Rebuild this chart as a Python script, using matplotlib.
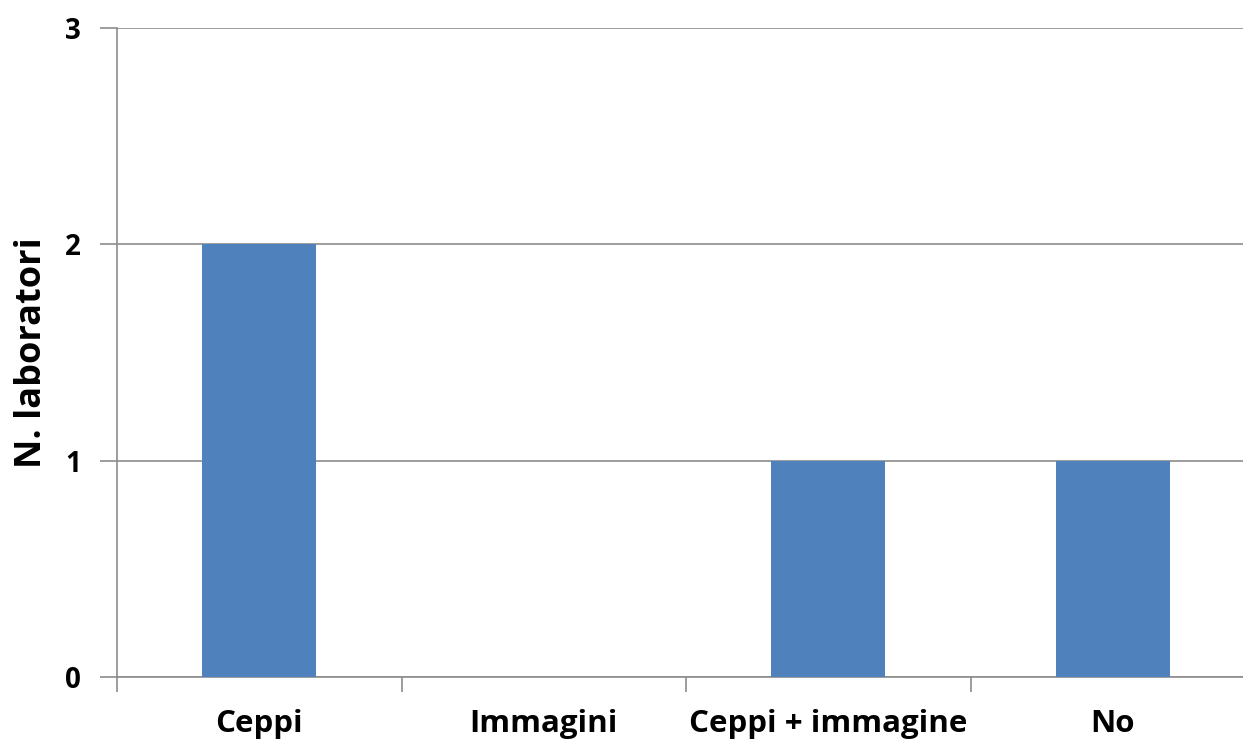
import matplotlib.pyplot as plt
import numpy as np

categories = ["Ceppi", "Immagini", "Ceppi + immagine", "No"]
values = [2, 0, 1, 1]
y_ticks = [0, 1, 2, 3]

plt.rcParams["font.family"] = ["Open Sans", "DejaVu Sans"]
plt.rcParams["font.weight"] = "bold"

fig = plt.figure(figsize=(12.43, 7.45), dpi=100)
# axes spans past the right edge, like the cropped original
ax = fig.add_axes([117 / 1243, (745 - 677) / 745, 1138 / 1243, (677 - 28) / 745])

x = np.arange(len(categories))
ax.bar(x, values, width=0.4, color="#4F81BD", zorder=3)

ax.set_xlim(-0.5, len(categories) - 0.5)
ax.set_ylim(0, 3)
ax.set_yticks(y_ticks)
ax.yaxis.grid(True, color="#8c8c8c", linewidth=1.2, zorder=0)

ax.set_xticks(x)
ax.set_xticklabels(categories, fontsize=22.5, fontweight="bold")
ax.tick_params(axis="x", which="major", length=0, pad=23)
ax.set_xticks(np.arange(-0.5, len(categories)), minor=True)
ax.tick_params(axis="x", which="minor", length=11, width=1.2, color="#8c8c8c")
ax.tick_params(axis="y", length=12, width=1.2, color="#8c8c8c", pad=14, labelsize=20)
for lbl in ax.get_yticklabels():
    lbl.set_fontweight("bold")

ax.set_ylabel("N. laboratori", fontsize=26, fontweight="bold", labelpad=11)

for side in ["top", "right"]:
    ax.spines[side].set_visible(False)
for side in ["left", "bottom"]:
    ax.spines[side].set_color("#8c8c8c")
    ax.spines[side].set_linewidth(1.2)

fig.savefig("out.png", dpi=100)
